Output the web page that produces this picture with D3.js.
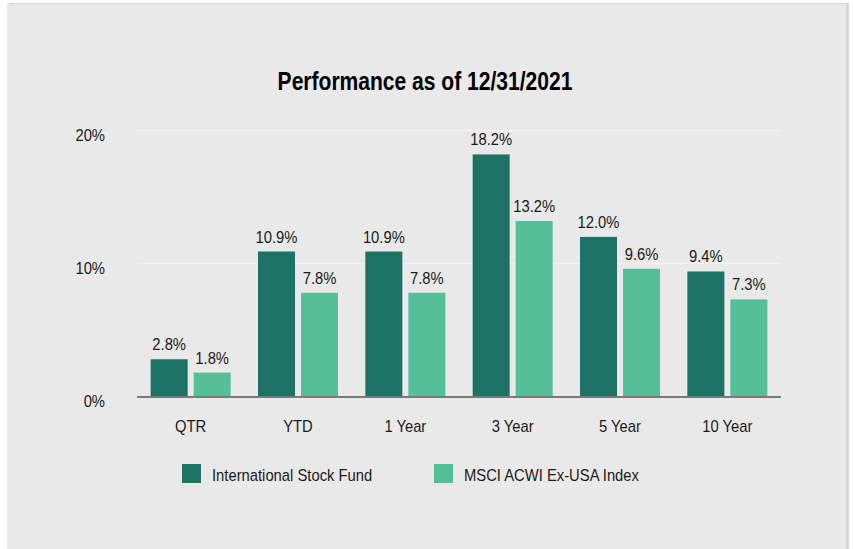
<!DOCTYPE html>
<html>
<head>
<meta charset="utf-8">
<script src="https://cdn.jsdelivr.net/npm/d3@7"></script>
<style>
  body { margin: 0; background: #fff; }
  svg { display: block; }
  text { font-family: "Liberation Sans", Arial, sans-serif; fill: #1a1a1a; }
</style>
</head>
<body>
<svg id="chart" width="853" height="549"></svg>
<script>
var categories = ["QTR", "YTD", "1 Year", "3 Year", "5 Year", "10 Year"];
var seriesNames = ["International Stock Fund", "MSCI ACWI Ex-USA Index"];
var fundValues = [2.8, 10.9, 10.9, 18.2, 12.0, 9.4];
var indexValues = [1.8, 7.8, 7.8, 13.2, 9.6, 7.3];
var yTicks = [0, 10, 20];
var colors = ["#1b7265", "#55bf9a"];

var svg = d3.select("#chart");

// the reference font is a narrow one, so squeeze text horizontally around its anchor
function squeeze(sel, s) {
  sel.each(function() {
    var t = d3.select(this);
    var tx = +t.attr("x") || 0, ty = +t.attr("y") || 0;
    t.attr("x", 0).attr("y", 0)
      .attr("transform", "translate(" + tx + "," + ty + ") scale(" + s + ",1)");
  });
}

// panel with a faint shadow on top/right
svg.append("rect").attr("x", 9).attr("y", 3).attr("width", 840).attr("height", 546).attr("fill", "#d7d7d7");
svg.append("rect").attr("x", 7).attr("y", 4).attr("width", 839).attr("height", 545).attr("fill", "#e9e9e9");

svg.append("text")
  .attr("x", 425).attr("y", 90)
  .attr("text-anchor", "middle")
  .style("font-size", "26px").style("font-weight", "bold").style("fill", "#000")
  .text("Performance as of 12/31/2021")
  .call(squeeze, 0.81);

var plotLeft = 137, plotRight = 781, plotTop = 130.5, plotBottom = 396.5;

var x = d3.scaleBand().domain(categories).range([plotLeft, plotRight]);
var x1 = d3.scaleBand().domain([0, 1]).range([0, 80]).paddingInner(6 / 43);
var y = d3.scaleLinear().domain([0, 20]).range([plotBottom, plotTop]);

var grid = svg.append("g");
grid.selectAll("line").data(yTicks.filter(function(d) { return d > 0; })).enter().append("line")
  .attr("x1", plotLeft).attr("x2", plotRight)
  .attr("y1", function(d) { return y(d); }).attr("y2", function(d) { return y(d); })
  .attr("stroke", "#f2f2f2").attr("stroke-width", 1.5);

var yAxis = d3.axisLeft(y).tickValues(yTicks).tickSize(0).tickPadding(0)
  .tickFormat(function(d) { return d + "%"; });
var yG = svg.append("g").attr("transform", "translate(105,0)").call(yAxis);
yG.select(".domain").remove();
yG.attr("font-family", null).attr("font-size", null);
yG.selectAll("text").style("font-size", "17px").attr("dy", "0.6em").attr("fill", "#1a1a1a")
  .call(squeeze, 0.87);

var rows = categories.map(function(c, i) { return { cat: c, vals: [fundValues[i], indexValues[i]] }; });
var off = (x.bandwidth() - 80) / 2;

var groups = svg.append("g").selectAll("g").data(rows).enter().append("g")
  .attr("transform", function(d) { return "translate(" + (x(d.cat) + off) + ",0)"; });

groups.selectAll("rect").data(function(d) { return d.vals; }).enter().append("rect")
  .attr("x", function(d, i) { return x1(i); })
  .attr("width", x1.bandwidth())
  .attr("y", function(d) { return y(d); })
  .attr("height", function(d) { return plotBottom - y(d); })
  .attr("fill", function(d, i) { return colors[i]; });

groups.selectAll("text").data(function(d) { return d.vals; }).enter().append("text")
  .attr("x", function(d, i) { return x1(i) + x1.bandwidth() / 2; })
  .attr("y", function(d) { return y(d) - 9; })
  .attr("text-anchor", "middle")
  .style("font-size", "17px")
  .text(function(d) { return d.toFixed(1) + "%"; })
  .call(squeeze, 0.87);

svg.append("line").attr("x1", plotLeft).attr("x2", plotRight).attr("y1", plotBottom + 0.5).attr("y2", plotBottom + 0.5)
  .attr("stroke", "#7a7a7a").attr("stroke-width", 2);

var xAxis = d3.axisBottom(x).tickSize(0).tickPadding(0);
var xG = svg.append("g").attr("transform", "translate(0,432)").call(xAxis);
xG.select(".domain").remove();
xG.attr("font-family", null).attr("font-size", null);
xG.selectAll("text").attr("dy", 0).style("font-size", "17px").attr("fill", "#1a1a1a")
  .call(squeeze, 0.87);

var legendX = [182, 434];
var legend = svg.append("g").selectAll("g").data(seriesNames).enter().append("g")
  .attr("transform", function(d, i) { return "translate(" + legendX[i] + ",464)"; });
legend.append("rect").attr("width", 19).attr("height", 19).attr("fill", function(d, i) { return colors[i]; });
legend.append("text").attr("x", 30).attr("y", 17).style("font-size", "17px")
  .text(function(d) { return d; })
  .call(squeeze, 0.87);
</script>
</body>
</html>
